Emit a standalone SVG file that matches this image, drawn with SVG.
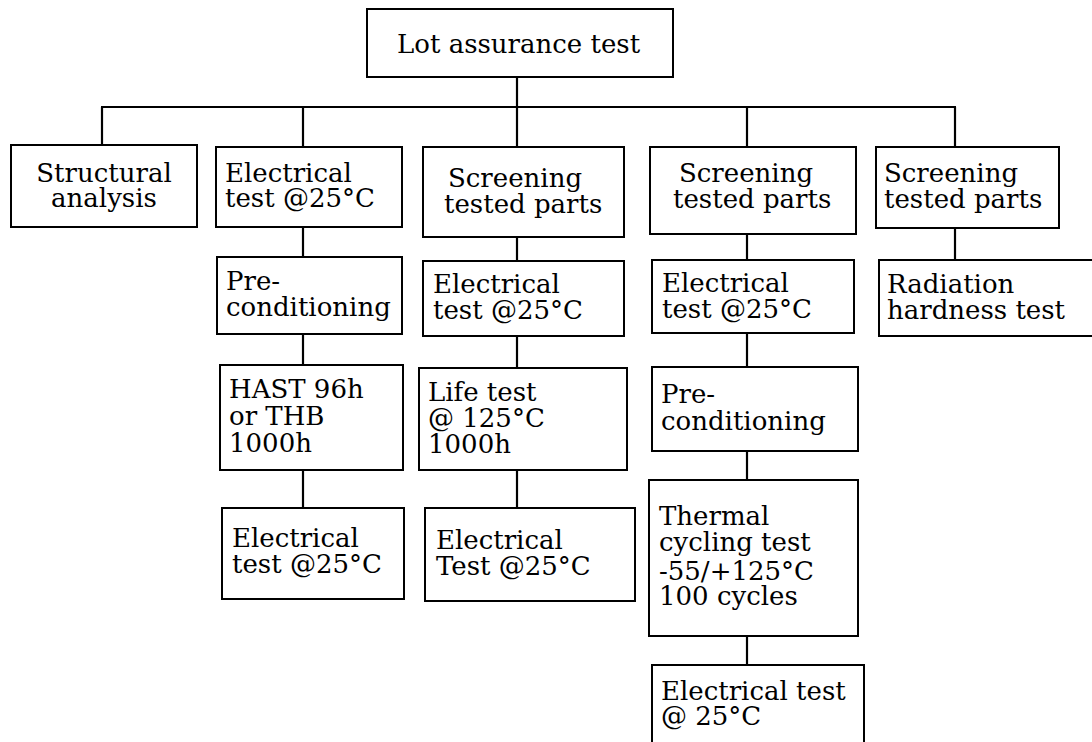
<svg xmlns="http://www.w3.org/2000/svg" width="1092" height="742" viewBox="0 0 1092 742">
<style>
.box{fill:#fff;stroke:#000;stroke-width:2}
.ln{stroke:#000;stroke-width:2.2;fill:none}
text{font-family:"DejaVu Serif","Liberation Serif",serif;font-size:26px;fill:#000}
</style>
<rect width="1092" height="742" fill="#fff"/>
<g id="connectors">
<line class="ln" x1="517" y1="77" x2="517" y2="107"/>
<line class="ln" x1="101" y1="107" x2="956" y2="107"/>
<line class="ln" x1="102" y1="107" x2="102" y2="145"/>
<line class="ln" x1="303" y1="107" x2="303" y2="147"/>
<line class="ln" x1="517" y1="107" x2="517" y2="147"/>
<line class="ln" x1="747" y1="107" x2="747" y2="147"/>
<line class="ln" x1="955" y1="107" x2="955" y2="147"/>
<line class="ln" x1="303" y1="227" x2="303" y2="257"/>
<line class="ln" x1="303" y1="334" x2="303" y2="365"/>
<line class="ln" x1="303" y1="470" x2="303" y2="508"/>
<line class="ln" x1="517" y1="237" x2="517" y2="261"/>
<line class="ln" x1="517" y1="336" x2="517" y2="368"/>
<line class="ln" x1="517" y1="470" x2="517" y2="508"/>
<line class="ln" x1="747" y1="234" x2="747" y2="260"/>
<line class="ln" x1="747" y1="333" x2="747" y2="367"/>
<line class="ln" x1="747" y1="451" x2="747" y2="480"/>
<line class="ln" x1="747" y1="636" x2="747" y2="665"/>
<line class="ln" x1="955" y1="228" x2="955" y2="260"/>
</g>
<g id="lot">
<rect class="box" x="367" y="9" width="306" height="68"/>
<text x="397" y="53">Lot assurance test</text>
</g>
<g id="structural">
<rect class="box" x="11" y="145" width="186" height="82"/>
<text x="104" y="182" text-anchor="middle">Structural</text>
<text x="104" y="207" text-anchor="middle">analysis</text>
</g>
<g id="c2-elec1">
<rect class="box" x="216" y="147" width="186" height="80"/>
<text x="225" y="182">Electrical</text>
<text x="225" y="207">test @25°C</text>
</g>
<g id="c2-pre">
<rect class="box" x="217" y="257" width="185" height="77"/>
<text x="226" y="290">Pre-</text>
<text x="226" y="316">conditioning</text>
</g>
<g id="c2-hast">
<rect class="box" x="220" y="365" width="183" height="105"/>
<text x="229" y="398">HAST 96h</text>
<text x="229" y="425">or THB</text>
<text x="229" y="452">1000h</text>
</g>
<g id="c2-elec2">
<rect class="box" x="222" y="508" width="182" height="91"/>
<text x="232" y="547">Electrical</text>
<text x="232" y="573">test @25°C</text>
</g>
<g id="c3-screen">
<rect class="box" x="423" y="147" width="201" height="90"/>
<text x="448" y="187">Screening</text>
<text x="444" y="213">tested parts</text>
</g>
<g id="c3-elec1">
<rect class="box" x="423" y="261" width="201" height="75"/>
<text x="433" y="293">Electrical</text>
<text x="433" y="319">test @25°C</text>
</g>
<g id="c3-life">
<rect class="box" x="419" y="368" width="208" height="102"/>
<text x="428" y="401">Life test</text>
<text x="428" y="427">@ 125°C</text>
<text x="428" y="453">1000h</text>
</g>
<g id="c3-elec2">
<rect class="box" x="425" y="508" width="210" height="93"/>
<text x="436" y="549">Electrical</text>
<text x="436" y="575">Test @25°C</text>
</g>
<g id="c4-screen">
<rect class="box" x="650" y="147" width="206" height="87"/>
<text x="679" y="182">Screening</text>
<text x="673" y="208">tested parts</text>
</g>
<g id="c4-elec1">
<rect class="box" x="652" y="260" width="202" height="73"/>
<text x="662" y="292">Electrical</text>
<text x="662" y="318">test @25°C</text>
</g>
<g id="c4-pre">
<rect class="box" x="652" y="367" width="206" height="84"/>
<text x="661" y="403">Pre-</text>
<text x="661" y="430">conditioning</text>
</g>
<g id="c4-thermal">
<rect class="box" x="649" y="480" width="209" height="156"/>
<text x="659" y="525">Thermal</text>
<text x="659" y="551">cycling test</text>
<text x="659" y="580">-55/+125°C</text>
<text x="659" y="605">100 cycles</text>
</g>
<g id="c4-elec2">
<rect class="box" x="652" y="665" width="212" height="90"/>
<text x="661" y="700">Electrical test</text>
<text x="661" y="725">@ 25°C</text>
</g>
<g id="c5-screen">
<rect class="box" x="876" y="147" width="183" height="81"/>
<text x="884" y="182">Screening</text>
<text x="884" y="208">tested parts</text>
</g>
<g id="c5-rad">
<rect class="box" x="879" y="260" width="220" height="76"/>
<text x="887" y="293">Radiation</text>
<text x="887" y="319">hardness test</text>
</g>
</svg>
